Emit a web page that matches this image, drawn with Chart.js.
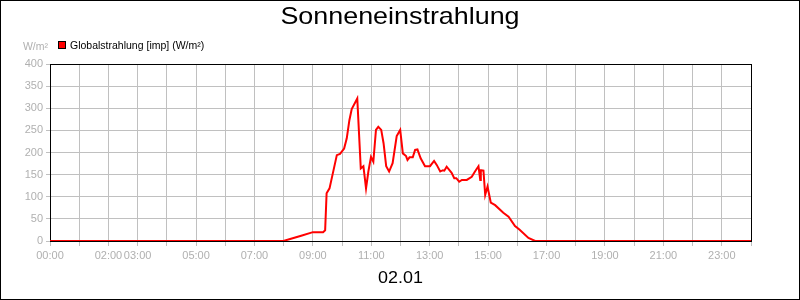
<!DOCTYPE html>
<html>
<head>
<meta charset="utf-8">
<script src="https://cdn.jsdelivr.net/npm/chart.js@4.4.1/dist/chart.umd.min.js"></script>
<style>
  html, body { margin: 0; padding: 0; background: #fff; }
  #wrap { position: relative; width: 800px; height: 300px; }
</style>
</head>
<body>
<div id="wrap"><canvas id="myChart" width="800" height="300"></canvas></div>
<script>
// time of day in hours
const hours = [0, 7.99, 8.25, 8.6, 9.0, 9.35, 9.42, 9.47, 9.57, 9.82, 9.93, 10.07, 10.16, 10.25, 10.33, 10.52,
  10.64, 10.73, 10.82, 10.9, 10.99, 11.07, 11.16, 11.24, 11.34, 11.42, 11.51, 11.61, 11.73, 11.87, 11.99,
  12.08, 12.19, 12.24, 12.31, 12.42, 12.5, 12.58, 12.69, 12.84, 13.01, 13.15, 13.24, 13.36, 13.45, 13.5,
  13.58, 13.75, 13.84, 13.91, 14.01, 14.1, 14.27, 14.44, 14.55, 14.67, 14.73, 14.75, 14.84, 14.9, 14.98,
  15.09, 15.24, 15.52, 15.7, 15.92, 16.07, 16.38, 16.61, 24];
// Globalstrahlung in W/m²
const radiation = [0, 0, 5, 12, 20, 20, 24, 108, 119, 194, 197, 209, 232, 273, 298, 322,
  164, 169, 119, 157, 190, 179, 251, 258, 251, 221, 169, 157, 176, 237, 251,
  198, 192, 183, 189, 189, 206, 207, 187, 169, 169, 181, 172, 157, 160, 159,
  168, 154, 142, 142, 134, 138, 138, 145, 157, 169, 138, 160, 159, 104, 123,
  87, 81, 64, 55, 34, 26, 7, 0, 0];
const xTickLabels = ['00:00', '02:00', '03:00', '05:00', '07:00', '09:00', '11:00', '13:00', '15:00', '17:00', '19:00', '21:00', '23:00'];
const yTicks = [0, 50, 100, 150, 200, 250, 300, 350, 400];

const chartTitle = 'Sonneneinstrahlung';
const seriesName = 'Globalstrahlung [imp] (W/m²)';
const unitLabel = 'W/m²';
const dateLabel = '02.01';

const FONT = '"Liberation Sans", Arial, sans-serif';
const GREY = '#b0b0b0';

const fmtHour = (v) => String(Math.round(v)).padStart(2, '0') + ':00';

// text drawn a bit wider than Arial, like the original renderer does
function wideText(ctx, text, x, y, sx, align) {
    ctx.save();
    ctx.translate(x, y);
    ctx.scale(sx, 1);
    ctx.textAlign = align;
    ctx.fillText(text, 0, 0);
    ctx.restore();
}

// frame, plot border, title, legend, unit and date text
const decorations = {
    id: 'decorations',
    beforeDatasetsDraw(chart) {
        const { ctx, chartArea: a } = chart;
        ctx.save();
        ctx.strokeStyle = '#000';
        ctx.lineWidth = 1;
        ctx.strokeRect(Math.round(a.left) + 0.5, Math.round(a.top) + 0.5, Math.round(a.right - a.left), Math.round(a.bottom - a.top));
        ctx.restore();
    },
    afterDraw(chart) {
        const { ctx, width, height, chartArea: a } = chart;
        ctx.save();
        ctx.strokeStyle = '#000';
        ctx.lineWidth = 1;
        ctx.strokeRect(0.5, 0.5, width - 1, height - 1);

        ctx.fillStyle = '#000';
        ctx.textBaseline = 'alphabetic';
        ctx.font = '24px ' + FONT;
        wideText(ctx, chartTitle, width / 2, 24, 1.12, 'center');

        ctx.font = '16px ' + FONT;
        wideText(ctx, dateLabel, (a.left + a.right) / 2, 283, 1.12, 'center');

        // legend
        ctx.fillStyle = '#ff0000';
        ctx.fillRect(58, 41, 8, 8);
        ctx.strokeStyle = '#000';
        ctx.strokeRect(58.5, 41.5, 7, 7);
        ctx.fillStyle = '#000';
        ctx.font = '10px ' + FONT;
        wideText(ctx, seriesName, 70, 49, 1.05, 'left');

        // unit
        ctx.fillStyle = GREY;
        wideText(ctx, unitLabel, 48, 50, 1.05, 'right');
        ctx.restore();
    }
};

const ctx = document.getElementById('myChart').getContext('2d');
new Chart(ctx, {
    type: 'line',
    data: {
        datasets: [{
            label: seriesName,
            data: hours.map((h, i) => ({ x: h, y: radiation[i] })),
            borderColor: '#ff0000',
            backgroundColor: '#ff0000',
            borderWidth: 2,
            pointRadius: 0,
            tension: 0,
            fill: false
        }]
    },
    options: {
        responsive: false,
        animation: false,
        layout: { padding: { left: 0, right: 49, top: 64, bottom: 0 } },
        plugins: {
            legend: { display: false },
            title: { display: false },
            tooltip: { enabled: false }
        },
        scales: {
            x: {
                type: 'linear',
                min: 0,
                max: 24,
                afterBuildTicks: (scale) => {
                    scale.ticks = Array.from({ length: 25 }, (_, i) => ({ value: i }));
                },
                afterFit: (scale) => { scale.height = 59; },
                ticks: {
                    autoSkip: false,
                    maxRotation: 0,
                    color: GREY,
                    padding: 3,
                    font: { family: FONT, size: 11 },
                    callback: (v) => xTickLabels.includes(fmtHour(v)) ? fmtHour(v) : ''
                },
                grid: { color: '#c0c0c0', lineWidth: 1, tickLength: 5, drawTicks: true },
                border: { display: false }
            },
            y: {
                min: 0,
                max: 400,
                afterBuildTicks: (scale) => {
                    scale.ticks = yTicks.map((v) => ({ value: v }));
                },
                afterFit: (scale) => { scale.width = 50; },
                ticks: {
                    color: GREY,
                    padding: 3,
                    font: { family: FONT, size: 11 }
                },
                grid: { color: '#c0c0c0', lineWidth: 1, tickLength: 4, drawTicks: true },
                border: { display: false }
            }
        }
    },
    plugins: [decorations]
});
</script>
</body>
</html>
